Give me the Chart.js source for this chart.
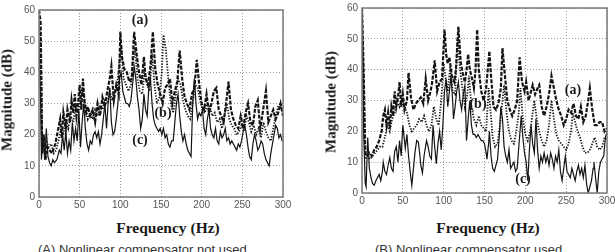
<!DOCTYPE html>
<html>
<head>
<meta charset="utf-8">
<script src="https://cdn.jsdelivr.net/npm/chart.js@4.4.1/dist/chart.umd.min.js"></script>
<style>
  html, body { margin: 0; padding: 0; background: #fff; width: 615px; height: 252px; overflow: hidden; position: relative; }
  canvas { position: absolute; }
  .t { position: absolute; white-space: nowrap; color: #1a1a1a; }
  .ytitle { font: bold 15px "Liberation Serif", "Times New Roman", serif; transform: translate(-50%, -50%) rotate(-90deg); }
  .xtitle { font: bold 15.5px "Liberation Serif", "Times New Roman", serif; transform: translate(-50%, -50%); }
  .lab { font: bold 14px "Liberation Serif", "Times New Roman", serif; transform: translate(-50%, -50%); }
  .cap { font: 13px "Liberation Sans", Arial, sans-serif; color: #333; top: 242px; line-height: 15px; }
</style>
</head>
<body>
<canvas id="chartA" width="305" height="215" style="left:0;top:0;width:305px;height:215px"></canvas>
<canvas id="chartB" width="320" height="213" style="left:305px;top:-2px;width:320px;height:213px"></canvas>

<div class="t ytitle" style="left:7px;top:100px">Magnitude (dB)</div>
<div class="t xtitle" style="left:168px;top:228px">Frequency (Hz)</div>
<div class="t lab" style="left:140px;top:20px">(a)</div>
<div class="t lab" style="left:163px;top:113px">(b)</div>
<div class="t lab" style="left:140px;top:140px">(c)</div>
<div class="t cap" style="left:38px">(A) Nonlinear compensator not used</div>

<div class="t ytitle" style="left:331px;top:102px">Magnitude (dB)</div>
<div class="t xtitle" style="left:488px;top:228px">Frequency (Hz)</div>
<div class="t lab" style="left:573px;top:90px">(a)</div>
<div class="t lab" style="left:478px;top:104px">(b)</div>
<div class="t lab" style="left:523px;top:179px">(c)</div>
<div class="t cap" style="left:375px">(B) Nonlinear compensator used</div>

<script>
// ===== Datos: [frecuencia (Hz), magnitud (dB)] =====
// (A) sin compensador
const leftA = [[0,60],[2,56],[4,14],[6,20],[8,12],[10,16],[13,15],[16,14],[20,17],[23,21],[26,25],[28,19],[30,27],[33,22],[35,28],[38,24],[40,31],[42,27],[44,33],[46,26],[48,30],[50,36],[52,28],[54,38],[56,30],[58,27],[60,29],[63,26],[66,28],[69,24],[72,30],[75,26],[78,32],[81,29],[84,34],[87,38],[89,42],[92,31],[95,36],[98,33],[100,53],[102,45],[105,41],[108,40],[111,37],[114,38],[117,53],[120,46],[123,40],[126,36],[129,45],[131,38],[134,36],[137,42],[140,53],[143,41],[146,36],[149,33],[152,30],[155,35],[158,36],[161,38],[164,30],[167,34],[170,37],[173,47],[176,38],[179,32],[182,30],[185,28],[188,33],[191,35],[194,44],[197,36],[200,30],[203,28],[206,33],[209,27],[212,30],[215,34],[218,35],[221,28],[224,26],[227,24],[230,30],[233,37],[236,28],[239,25],[242,23],[245,22],[248,26],[251,22],[254,27],[257,30],[260,24],[263,23],[266,29],[269,31],[272,22],[275,27],[279,34],[282,24],[285,26],[288,28],[291,25],[294,27],[297,30],[300,26]];
const leftB = [[0,55],[2,50],[4,18],[6,17],[9,18],[12,16],[15,17],[18,14],[21,15],[24,18],[27,22],[30,20],[33,25],[36,22],[39,26],[42,24],[45,29],[48,27],[51,32],[54,34],[57,30],[60,25],[63,27],[66,25],[69,28],[72,26],[75,29],[78,28],[81,31],[84,30],[87,34],[90,31],[93,34],[96,36],[99,44],[101,48],[104,38],[107,36],[110,34],[113,36],[116,44],[118,48],[121,38],[124,34],[127,33],[130,41],[133,36],[136,34],[139,46],[142,36],[145,30],[148,32],[151,40],[153,52],[156,47],[159,38],[162,30],[165,27],[168,32],[171,38],[174,36],[177,31],[180,28],[183,26],[186,25],[189,30],[192,36],[195,35],[198,31],[201,28],[204,27],[207,30],[210,29],[213,26],[216,27],[219,24],[222,25],[225,22],[228,26],[231,30],[234,25],[237,23],[240,22],[243,20],[246,21],[249,23],[252,21],[255,26],[258,24],[261,21],[264,23],[267,20],[270,22],[273,19],[276,24],[279,21],[282,19],[285,18],[288,22],[291,26],[294,29],[297,30],[300,27]];
const leftC = [[0,50],[2,30],[3,12],[5,20],[7,12],[9,22],[11,13],[13,11],[15,10],[17,12],[19,11],[22,12],[25,15],[27,14],[29,20],[31,15],[33,21],[35,14],[37,18],[39,15],[41,24],[43,18],[45,22],[47,18],[49,28],[51,16],[53,24],[55,30],[57,22],[59,17],[61,15],[63,18],[65,17],[67,20],[69,21],[71,19],[73,21],[75,17],[77,20],[79,25],[81,30],[83,22],[85,30],[87,35],[89,24],[91,20],[93,21],[95,25],[97,30],[99,38],[101,40],[103,34],[105,32],[107,30],[109,30],[111,29],[113,31],[115,36],[117,42],[119,38],[121,32],[123,28],[125,22],[127,25],[129,33],[131,28],[133,26],[135,35],[137,38],[139,30],[141,25],[143,23],[145,22],[147,21],[149,22],[151,20],[153,22],[155,19],[157,20],[159,17],[161,16],[163,18],[165,18],[167,24],[169,30],[171,33],[173,26],[175,21],[177,18],[179,20],[181,17],[183,15],[185,14],[187,13],[189,30],[191,38],[193,30],[195,25],[197,27],[199,26],[201,28],[203,22],[205,20],[207,25],[209,28],[211,22],[213,20],[215,19],[217,22],[219,18],[221,17],[223,21],[225,19],[227,20],[229,22],[231,18],[233,19],[235,17],[237,18],[239,17],[241,16],[243,15],[245,17],[247,16],[249,18],[251,21],[253,23],[255,20],[257,16],[259,13],[261,12],[263,17],[265,20],[267,18],[269,15],[271,16],[273,18],[275,17],[277,14],[279,12],[281,11],[283,10],[285,14],[287,17],[289,20],[291,23],[293,22],[295,19],[297,20],[299,18],[300,18]];

// (B) con compensador
const rightA = [[0,60],[2,40],[4,13],[6,12],[9,13],[12,12],[15,14],[18,15],[21,17],[24,20],[26,25],[28,27],[30,22],[32,26],[34,21],[36,28],[38,25],[40,33],[42,28],[44,31],[46,36],[48,28],[50,32],[52,27],[55,30],[57,39],[60,31],[63,27],[66,29],[69,30],[72,31],[75,29],[78,37],[81,30],[84,33],[86,36],[89,43],[92,33],[95,36],[98,37],[101,53],[103,45],[105,42],[107,44],[110,38],[113,36],[115,40],[118,54],[121,42],[124,38],[126,36],[128,40],[130,45],[132,40],[134,38],[137,34],[139,40],[141,53],[143,40],[146,33],[149,30],[152,34],[154,40],[156,46],[158,38],[161,28],[164,27],[167,29],[170,34],[172,47],[175,38],[178,30],[181,27],[184,25],[187,27],[190,30],[193,44],[196,36],[199,33],[201,36],[204,30],[207,33],[209,35],[212,32],[215,34],[217,35],[220,28],[223,25],[226,28],[229,32],[232,38],[235,34],[238,30],[241,27],[244,25],[247,22],[250,24],[253,27],[256,26],[259,29],[262,25],[265,24],[268,28],[271,23],[274,25],[277,30],[279,34],[282,27],[285,22],[288,22],[291,23],[294,23],[297,20],[300,21]];
const rightB = [[0,58],[2,35],[4,11],[7,12],[10,11],[13,12],[16,13],[19,14],[22,15],[25,15],[28,18],[31,22],[34,20],[37,24],[40,26],[43,30],[46,28],[49,31],[52,28],[55,26],[58,22],[61,20],[64,21],[67,22],[70,24],[73,23],[76,25],[79,22],[82,20],[85,22],[88,28],[91,24],[94,22],[97,30],[100,42],[102,38],[105,33],[108,41],[111,33],[114,32],[117,50],[120,40],[123,34],[126,28],[129,32],[131,38],[134,28],[137,24],[140,22],[143,25],[146,22],[149,21],[152,20],[155,34],[157,28],[160,18],[163,15],[166,16],[169,22],[172,30],[174,35],[177,26],[180,20],[183,17],[186,16],[189,20],[192,26],[194,34],[197,24],[200,19],[203,17],[206,20],[209,26],[211,30],[214,24],[217,20],[220,17],[223,15],[226,17],[229,22],[232,30],[235,24],[238,19],[241,17],[244,16],[247,15],[250,14],[253,16],[256,20],[258,26],[261,23],[264,20],[267,18],[270,15],[273,13],[276,13],[279,14],[282,16],[285,18],[288,15],[291,14],[294,15],[297,18],[300,17]];
const rightC = [[0,60],[2,20],[4,3],[5,2],[7,18],[9,8],[11,5],[13,3],[15,2.5],[17,4],[19,5],[21,6],[23,4],[25,7],[26,10],[28,7],[30,6],[32,9],[34,11.5],[36,8],[38,7],[40,13.5],[42,15],[44,10],[46,17],[48,12],[50,22],[53,14.5],[55,19],[57,12],[59,7],[61,2.5],[63,8],[65,13.5],[67,17],[69,16.5],[71,12],[72,9],[74,6.5],[76,12],[79,17],[81,15],[83,12],[85,11],[87,22],[89,15],[91,9.5],[93,16],[95,20],[97,14],[99,22],[101,33],[103,37],[105,28],[107,33],[109,38],[111,30],[112,24],[114,28],[116,33],[118,36],[120,30],[122,27],[124,32],[126,35],[128,17],[130,24],[132,30],[134,22],[136,19],[138,19],[140,18],[142,19],[144,18],[146,17],[148,17],[150,16],[152,13],[153,11],[155,16],[156,20],[158,12],[160,8],[162,7],[164,9],[166,11],[168,18],[170,28],[172,24],[174,15],[176,12],[178,10],[180,14],[182,8],[184,9],[186,10],[188,7],[190,8],[192,15],[195,25],[197,18],[199,13],[201,10],[203,4],[205,14],[207,22],[209,16],[211,13],[213,24],[215,14],[217,8],[219,12],[221,10],[223,13],[225,10],[227,12],[229,9],[231,13],[233,11],[235,8],[237,12],[239,10],[241,14],[243,7],[245,4],[247,8],[249,12],[251,7],[253,6],[255,5],[257,8],[259,6],[261,4],[263,7],[265,9],[267,6],[269,8],[271,5],[273,9],[275,3],[277,0],[279,2],[281,4],[283,8],[284,10],[286,5],[288,0],[290,7],[292,10],[294,11],[296,12],[298,18],[300,20]];

// ===== Estilos de las curvas =====
const INK = '#141414';
const styleA = { borderWidth: 2.2, borderDash: [4, 1.5] };   // (a) discontinua
const styleB = { borderWidth: 1.8, borderDash: [1.3, 1.5] }; // (b) punteada
const styleC = { borderWidth: 1.2, borderDash: [] };        // (c) continua

// Marco completo alrededor del área del gráfico
const frame = {
  id: 'frame',
  afterDraw(c) {
    const { ctx, chartArea: a } = c;
    ctx.save();
    ctx.strokeStyle = '#7a7a7a';
    ctx.lineWidth = 1.5;
    ctx.setLineDash([]);
    ctx.strokeRect(a.left, a.top, a.right - a.left, a.bottom - a.top);
    ctx.restore();
  }
};

const tickFont = { family: '"Liberation Sans", Arial, sans-serif', size: 10 };

function mkSpectrum(id, pad, yW, a, b, c) {
  const ds = (pts, st) => ({
    data: pts.map(([x, y]) => ({ x, y })),
    borderColor: INK, pointRadius: 0, tension: 0, fill: false, ...st
  });
  return new Chart(document.getElementById(id), {
    type: 'line',
    data: { datasets: [ds(c, styleC), ds(b, styleB), ds(a, styleA)] },
    options: {
      responsive: false, animation: false, events: [],
      layout: { padding: pad },
      plugins: { legend: { display: false }, tooltip: { enabled: false } },
      scales: {
        x: {
          type: 'linear', min: 0, max: 300,
          afterFit: s => { s.height = 18; },
          ticks: { stepSize: 50, color: '#555', font: tickFont, padding: 2, maxRotation: 0 },
          grid: { color: '#9a9a9a', lineWidth: 1, drawTicks: false },
          border: { display: false, dash: [1, 2] }
        },
        y: {
          min: 0, max: 60,
          afterFit: s => { s.width = yW; },
          ticks: { stepSize: 10, color: '#555', font: tickFont, padding: 4 },
          grid: { color: '#9a9a9a', lineWidth: 1, drawTicks: false },
          border: { display: false, dash: [1, 2] }
        }
      }
    },
    plugins: [frame]
  });
}

mkSpectrum('chartA', { left: 0, top: 6, right: 22, bottom: 0 }, 39, leftA, leftB, leftC);
mkSpectrum('chartB', { left: 0, top: 6, right: 18, bottom: 0 }, 57, rightA, rightB, rightC);
</script>
</body>
</html>
